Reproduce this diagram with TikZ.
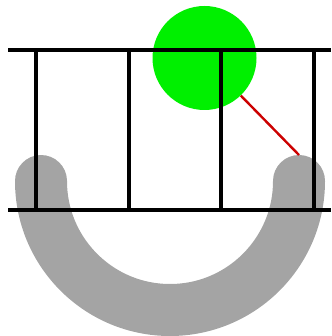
\documentclass[tikz,border=0pt]{standalone}
\usetikzlibrary{calc}
\definecolor{railgray}{HTML}{A4A4A4}
\definecolor{ballgreen}{HTML}{00F000}
\definecolor{ropered}{HTML}{CC0000}

\begin{document}
\begin{tikzpicture}[x=1pt,y=-1pt,
 r/.style={line width=3.8pt,black},
 p/.style={line width=3.4pt,black},
 c/.style={line width=2.4pt,ropered}]
\useasboundingbox (0,0) rectangle (331,336);
% gray U-shaped track
\draw[railgray,line width=52pt,line cap=round] (41,181) arc[start angle=180,end angle=0,radius=129];
\coordinate (capr) at (299,155);
\node[circle,fill=ballgreen,minimum size=104pt,inner sep=0pt] (ball) at (204.5,58) {};
% ladder
\coordinate (tl) at (8,50); \coordinate (tr) at (331,50);
\coordinate (bl) at (8,210); \coordinate (br) at (331,210);
\draw[r] (tl)--(tr); \draw[r] (bl)--(br);
\foreach \x in {36,129,221,314}
  \draw[p] (\x,50)--(\x,210);
\draw[c] (ball.-46)--(capr);
\end{tikzpicture}
\end{document}
